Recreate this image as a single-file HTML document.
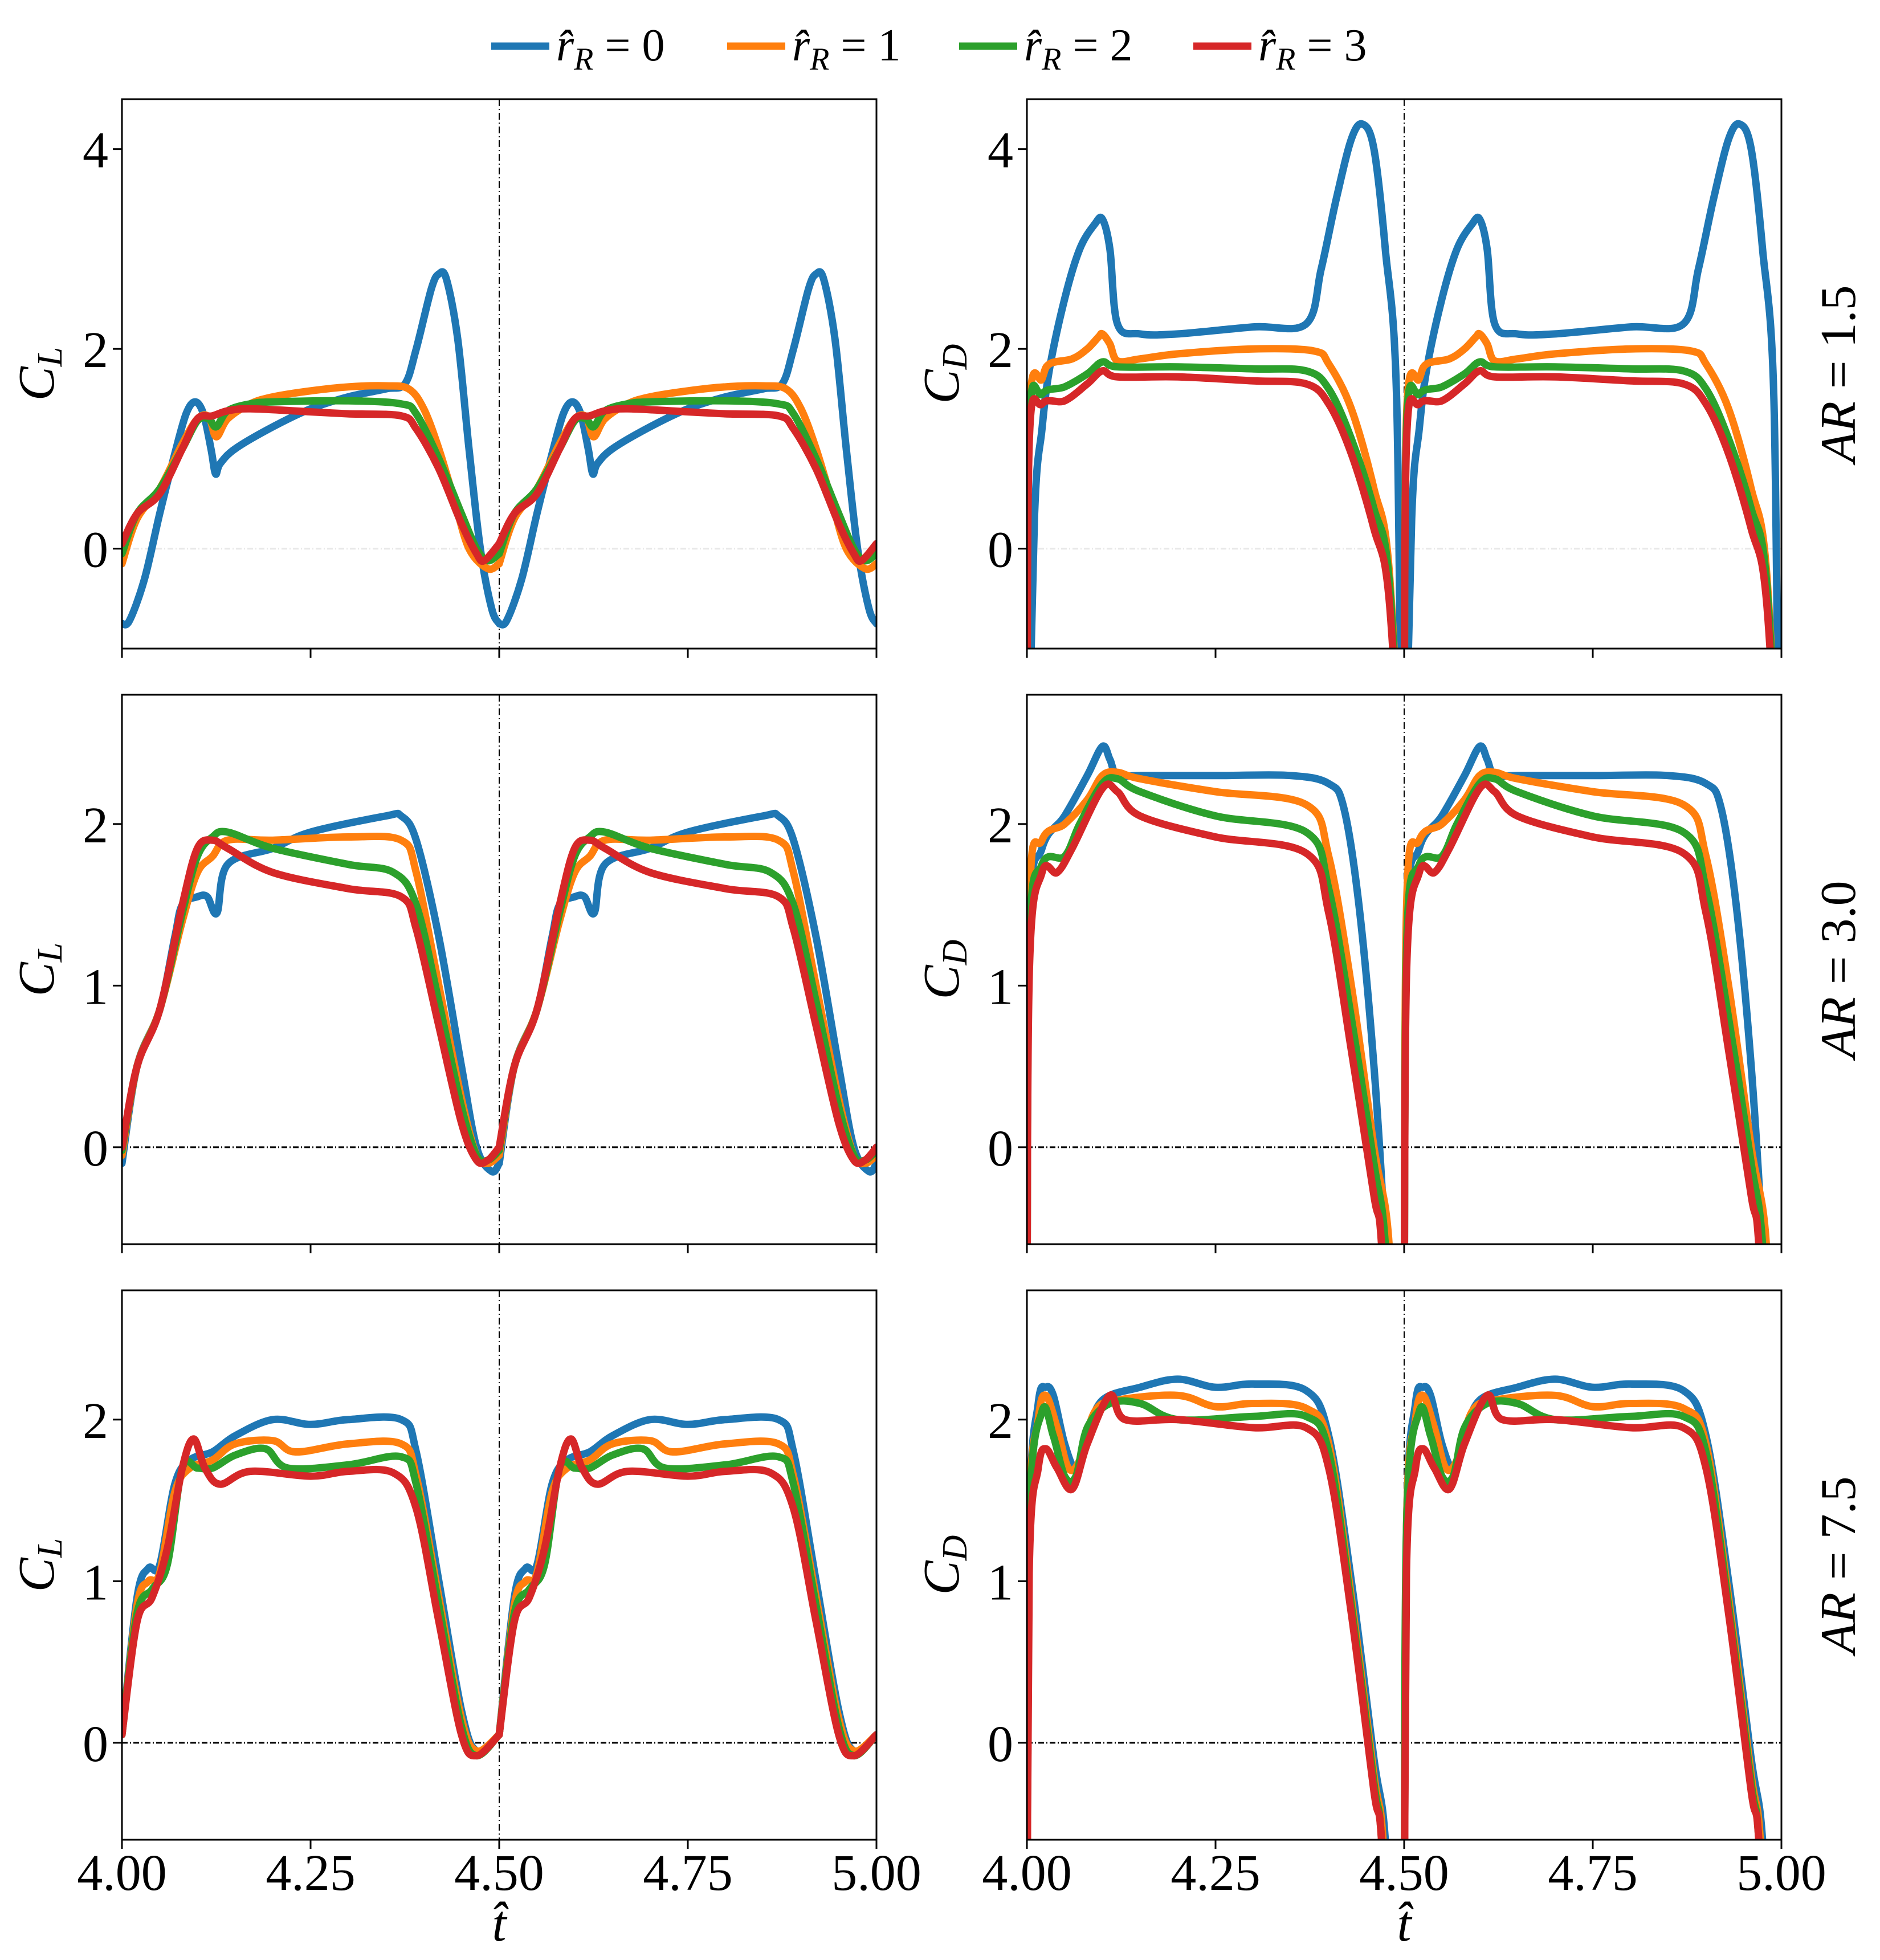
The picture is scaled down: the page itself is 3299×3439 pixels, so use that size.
<!DOCTYPE html>
<html><head><meta charset="utf-8">
<style>
html,body{margin:0;padding:0;background:#fff;overflow:hidden;}
svg{display:block;font-family:"Liberation Serif","DejaVu Serif",serif;}
</style></head>
<body>
<svg id="fig" width="3299" height="3439" viewBox="0 0 3299 3439" xmlns="http://www.w3.org/2000/svg">
<defs></defs>
<g id="legend"></g>
<g id="panels"></g>
</svg>
<script>
// ---- data: one cycle (t from 4.0 to 4.5), repeated for second cycle ----
const seriesNames = ["r=0","r=1","r=2","r=3"];
const seriesColors = ["#1f77b4","#ff7f0e","#2ca02c","#d62728"];
const legendLabels = ["0","1","2","3"];
const xTicks = [4.0,4.25,4.5,4.75,5.0];
const xTickLabels = ["4.00","4.25","4.50","4.75","5.00"];
const arLabels = ["1.5","3.0","7.5"];
const yTicksRow1 = [0,2,4];
const yTicksRow23 = [0,1,2];

// Row 1 CL
const r1L_b_t=[4.0,4.01,4.03,4.05,4.07,4.085,4.097,4.108,4.118,4.124,4.13,4.15,4.2,4.25,4.3,4.35,4.375,4.39,4.41,4.42,4.43,4.445,4.46,4.475,4.49,4.5];
const r1L_b_v=[-0.75,-0.72,-0.3,0.35,0.95,1.35,1.47,1.35,1.0,0.75,0.85,1.0,1.22,1.4,1.52,1.6,1.65,2.0,2.6,2.75,2.7,2.1,1.0,0.0,-0.6,-0.75];
const r1L_o_t=[4.0,4.02,4.05,4.08,4.1,4.115,4.125,4.14,4.17,4.2,4.25,4.3,4.35,4.38,4.4,4.42,4.44,4.46,4.485,4.5];
const r1L_o_v=[-0.15,0.3,0.6,1.05,1.3,1.32,1.12,1.3,1.45,1.52,1.58,1.62,1.63,1.6,1.4,1.0,0.5,0.0,-0.2,-0.15];
const r1L_g_t=[4.0,4.02,4.05,4.08,4.1,4.115,4.125,4.14,4.17,4.2,4.3,4.37,4.39,4.42,4.45,4.47,4.485,4.5];
const r1L_g_v=[-0.05,0.35,0.6,1.0,1.28,1.3,1.22,1.38,1.45,1.47,1.48,1.45,1.35,0.9,0.35,0.0,-0.12,-0.05];
const r1L_r_t=[4.0,4.02,4.05,4.08,4.1,4.12,4.14,4.17,4.25,4.3,4.37,4.39,4.42,4.45,4.47,4.48,4.5];
const r1L_r_v=[0.05,0.35,0.55,1.0,1.3,1.33,1.38,1.4,1.37,1.35,1.33,1.2,0.8,0.25,-0.05,-0.12,0.05];
// Row 1 CD
const r1D_b_t=[4.0,4.01,4.02,4.03,4.05,4.07,4.09,4.1,4.11,4.12,4.15,4.2,4.3,4.37,4.39,4.41,4.43,4.445,4.46,4.475,4.49,4.497];
const r1D_b_v=[-3,0.3,1.2,1.8,2.5,3.0,3.25,3.3,3.0,2.25,2.15,2.15,2.22,2.25,2.8,3.5,4.1,4.25,4.0,3.0,1.5,-3];
const r1D_o_t=[4.0,4.003,4.02,4.03,4.06,4.08,4.095,4.1,4.11,4.12,4.15,4.2,4.3,4.38,4.4,4.43,4.46,4.48,4.5];
const r1D_o_v=[-3,1.3,1.7,1.85,1.9,2.0,2.12,2.15,2.05,1.88,1.9,1.95,2.0,1.98,1.85,1.4,0.6,-0.2,-3];
const r1D_g_t=[4.0,4.003,4.02,4.05,4.08,4.1,4.12,4.2,4.3,4.37,4.4,4.43,4.46,4.48,4.5];
const r1D_g_v=[-3,1.2,1.55,1.62,1.75,1.87,1.82,1.82,1.8,1.78,1.6,1.1,0.4,-0.3,-3];
const r1D_r_t=[4.0,4.003,4.02,4.05,4.08,4.1,4.12,4.2,4.3,4.37,4.4,4.43,4.46,4.48,4.5];
const r1D_r_v=[-3,1.05,1.45,1.48,1.65,1.78,1.72,1.72,1.68,1.65,1.45,0.95,0.2,-0.5,-3];
// Row 2 CL
const r2L_b_t=[4.0,4.02,4.05,4.07,4.08,4.1,4.113,4.126,4.14,4.2,4.25,4.35,4.37,4.39,4.42,4.45,4.47,4.49,4.5];
const r2L_b_v=[-0.1,0.5,0.85,1.3,1.5,1.55,1.55,1.45,1.75,1.85,1.95,2.05,2.05,1.9,1.3,0.5,0.0,-0.15,-0.1];
const r2L_o_t=[4.0,4.02,4.05,4.08,4.1,4.12,4.14,4.2,4.3,4.37,4.39,4.42,4.45,4.47,4.485,4.5];
const r2L_o_v=[-0.05,0.5,0.85,1.4,1.7,1.8,1.9,1.9,1.92,1.9,1.7,1.0,0.3,-0.05,-0.1,-0.05];
const r2L_g_t=[4.0,4.02,4.05,4.08,4.1,4.12,4.14,4.2,4.3,4.36,4.39,4.42,4.45,4.47,4.485,4.5];
const r2L_g_v=[-0.02,0.5,0.85,1.45,1.8,1.92,1.95,1.85,1.75,1.7,1.5,0.9,0.25,-0.05,-0.08,-0.02];
const r2L_r_t=[4.0,4.02,4.05,4.08,4.1,4.12,4.14,4.2,4.3,4.37,4.39,4.42,4.45,4.47,4.485,4.5];
const r2L_r_v=[0.0,0.5,0.85,1.5,1.85,1.9,1.85,1.7,1.6,1.55,1.35,0.75,0.15,-0.08,-0.08,0.0];
// Row 2 CD
const r2D_b_t=[4.0,4.003,4.02,4.05,4.08,4.1,4.11,4.12,4.15,4.25,4.35,4.4,4.42,4.44,4.46,4.475,4.49];
const r2D_b_v=[-2,1.3,1.85,2.05,2.3,2.48,2.4,2.3,2.3,2.3,2.3,2.25,2.1,1.5,0.5,-0.6,-2];
const r2D_o_t=[4.0,4.003,4.02,4.05,4.08,4.1,4.12,4.15,4.25,4.37,4.4,4.43,4.46,4.48,4.49];
const r2D_o_v=[-2,1.45,1.9,2.0,2.15,2.3,2.32,2.28,2.2,2.12,1.8,1.0,0.0,-0.6,-2];
const r2D_g_t=[4.0,4.003,4.02,4.05,4.07,4.1,4.12,4.15,4.25,4.37,4.4,4.43,4.46,4.475,4.49];
const r2D_g_v=[-2,1.2,1.75,1.8,2.0,2.25,2.28,2.2,2.05,1.95,1.6,0.8,-0.1,-0.6,-2];
const r2D_r_t=[4.0,4.003,4.02,4.04,4.06,4.1,4.12,4.15,4.25,4.37,4.4,4.43,4.46,4.47,4.485];
const r2D_r_v=[-2,1.05,1.7,1.7,1.85,2.22,2.2,2.05,1.92,1.82,1.45,0.6,-0.3,-0.6,-2];
// Row 3 CL
const r3L_b_t=[4.0,4.02,4.035,4.05,4.07,4.09,4.12,4.15,4.2,4.25,4.3,4.37,4.39,4.42,4.45,4.47,4.5];
const r3L_b_v=[0.05,0.9,1.08,1.1,1.6,1.75,1.8,1.9,2.0,1.97,2.0,2.0,1.8,1.0,0.2,-0.05,0.05];
const r3L_o_t=[4.0,4.02,4.035,4.05,4.07,4.09,4.12,4.15,4.2,4.23,4.3,4.37,4.39,4.42,4.45,4.47,4.5];
const r3L_o_v=[0.05,0.85,1.0,1.05,1.55,1.7,1.75,1.85,1.87,1.8,1.85,1.85,1.65,0.9,0.15,-0.05,0.05];
const r3L_g_t=[4.0,4.02,4.04,4.06,4.08,4.1,4.12,4.15,4.19,4.22,4.3,4.37,4.39,4.42,4.45,4.47,4.5];
const r3L_g_v=[0.05,0.8,0.95,1.1,1.7,1.7,1.7,1.78,1.82,1.7,1.72,1.77,1.6,0.85,0.1,-0.08,0.05];
const r3L_r_t=[4.0,4.02,4.04,4.06,4.08,4.095,4.11,4.13,4.17,4.25,4.3,4.36,4.39,4.42,4.45,4.47,4.5];
const r3L_r_v=[0.05,0.75,0.9,1.2,1.7,1.88,1.7,1.6,1.68,1.65,1.68,1.67,1.45,0.75,0.05,-0.08,0.05];
// Row 3 CD
const r3D_b_t=[4.0,4.003,4.015,4.025,4.035,4.05,4.065,4.08,4.1,4.15,4.2,4.25,4.3,4.37,4.4,4.43,4.46,4.475,4.49];
const r3D_b_v=[-2,1.3,2.1,2.2,2.15,1.85,1.7,1.9,2.12,2.2,2.25,2.2,2.22,2.18,1.9,1.0,-0.1,-0.6,-2];
const r3D_o_t=[4.0,4.003,4.015,4.025,4.04,4.055,4.07,4.09,4.12,4.2,4.25,4.3,4.37,4.4,4.43,4.46,4.472,4.487];
const r3D_o_v=[-2,1.3,2.0,2.15,1.95,1.7,1.75,2.05,2.12,2.15,2.08,2.1,2.07,1.85,0.9,-0.2,-0.6,-2];
const r3D_g_t=[4.0,4.003,4.02,4.035,4.05,4.065,4.08,4.11,4.15,4.2,4.3,4.37,4.4,4.43,4.46,4.47,4.485];
const r3D_g_v=[-2,1.3,2.05,1.9,1.65,1.65,1.95,2.1,2.1,2.0,2.02,2.02,1.8,0.85,-0.25,-0.6,-2];
const r3D_r_t=[4.0,4.003,4.015,4.025,4.04,4.06,4.08,4.11,4.13,4.2,4.3,4.37,4.4,4.43,4.46,4.47,4.485];
const r3D_r_v=[-2,1.05,1.7,1.82,1.7,1.57,1.85,2.15,2.0,2.0,1.95,1.95,1.7,0.8,-0.3,-0.6,-2];

const panelsData = [
 [[r1L_b_t,r1L_b_v],[r1L_o_t,r1L_o_v],[r1L_g_t,r1L_g_v],[r1L_r_t,r1L_r_v]],
 [[r1D_b_t,r1D_b_v],[r1D_o_t,r1D_o_v],[r1D_g_t,r1D_g_v],[r1D_r_t,r1D_r_v]],
 [[r2L_b_t,r2L_b_v],[r2L_o_t,r2L_o_v],[r2L_g_t,r2L_g_v],[r2L_r_t,r2L_r_v]],
 [[r2D_b_t,r2D_b_v],[r2D_o_t,r2D_o_v],[r2D_g_t,r2D_g_v],[r2D_r_t,r2D_r_v]],
 [[r3L_b_t,r3L_b_v],[r3L_o_t,r3L_o_v],[r3L_g_t,r3L_g_v],[r3L_r_t,r3L_r_v]],
 [[r3D_b_t,r3D_b_v],[r3D_o_t,r3D_o_v],[r3D_g_t,r3D_g_v],[r3D_r_t,r3D_r_v]]
];

const NS="http://www.w3.org/2000/svg";
function mk(tag,attrs,parent){const e=document.createElementNS(NS,tag);for(const k in attrs)e.setAttribute(k,attrs[k]);if(parent)parent.appendChild(e);return e;}
function smoothPath(pts){
 let d='M'+pts[0][0].toFixed(1)+','+pts[0][1].toFixed(1);
 for(let i=0;i<pts.length-1;i++){
  const p0=pts[Math.max(0,i-1)],p1=pts[i],p2=pts[i+1],p3=pts[Math.min(pts.length-1,i+2)];
  const k=1/6;
  const c1x=p1[0]+(p2[0]-p0[0])*k, c1y=p1[1]+(p2[1]-p0[1])*k;
  const c2x=p2[0]-(p3[0]-p1[0])*k, c2y=p2[1]-(p3[1]-p1[1])*k;
  d+='C'+c1x.toFixed(1)+','+c1y.toFixed(1)+' '+c2x.toFixed(1)+','+c2y.toFixed(1)+' '+p2[0].toFixed(1)+','+p2[1].toFixed(1);
 }
 return d;
}

const colX=[214,1802], colW=1324;
const rowY=[174,1219,2264], rowH=964;
const panelsG=document.getElementById('panels');
const defs=document.querySelector('defs');

for(let r=0;r<3;r++){
 for(let c=0;c<2;c++){
  const idx=r*2+c;
  const x0=colX[c], y0=rowY[r];
  const ymin = r===0?-1:-0.6, ymax = r===0?4.5:2.8;
  const sx=t=>x0+(t-4)*colW;
  const sy=v=>y0+(ymax-v)/(ymax-ymin)*rowH;
  const g=mk('g',{},panelsG);
  
  
  const cp=mk('clipPath',{id:'clip'+idx},defs);
  mk('rect',{x:x0,y:y0,width:colW,height:rowH},cp);
  const zl=mk('line',{x1:x0,x2:x0+colW,y1:sy(0),y2:sy(0),stroke:r===0?'#e8e8e8':'#000','stroke-width':3,'stroke-dasharray':'10,4,2,4'},g);
  
  
  const vl=mk('line',{x1:sx(4.5),x2:sx(4.5),y1:y0,y2:y0+rowH,stroke:'#000','stroke-width':2,'stroke-dasharray':'12,5,2,5'},g);
  
  
  const sg=mk('g',{'clip-path':'url(#clip'+idx+')'},g);
  panelsData[idx].forEach((s,si)=>{
   const [ts,vs]=s;
   for(let cyc=0;cyc<2;cyc++){
    const pts=ts.map((t,i)=>[sx(t+cyc*0.5),sy(vs[i])]);
    const p=mk('path',{d:smoothPath(pts),fill:'none',stroke:seriesColors[si],'stroke-width':13,'stroke-linejoin':'round','stroke-linecap':'round'},sg);
    
    
   }
  });
  const fr=mk('rect',{x:x0,y:y0,width:colW,height:rowH,fill:'none',stroke:'#000','stroke-width':3},g);
  
  
  xTicks.forEach((t,i)=>{
   mk('line',{x1:sx(t),x2:sx(t),y1:y0+rowH,y2:y0+rowH+16,stroke:'#000','stroke-width':3},g);
   if(r===2){
    const tl=mk('text',{x:sx(t),y:y0+rowH+88,'font-size':90,'text-anchor':'middle',fill:'#000'},g);
    tl.textContent=xTickLabels[i];
    
    
   }
  });
  (r===0?yTicksRow1:yTicksRow23).forEach(v=>{
   mk('line',{x1:x0-16,x2:x0,y1:sy(v),y2:sy(v),stroke:'#000','stroke-width':3},g);
   const yl=mk('text',{x:x0-24,y:sy(v)+32,'font-size':90,'text-anchor':'end',fill:'#000'},g);
   yl.textContent=String(v);
   
   
  });
  const lx=x0-120, ly=y0+rowH/2;
  const yt=mk('text',{x:lx,y:ly,'font-size':90,'font-style':'italic','text-anchor':'middle',transform:'rotate(-90 '+lx+' '+ly+')',fill:'#000'},g);
  yt.innerHTML='C<tspan font-size="62" dy="14">'+(c===0?'L':'D')+'</tspan>';
  
  
  if(c===1){
   const ax=3255, ay=y0+rowH/2;
   const at=mk('text',{x:ax,y:ay,'font-size':88,'text-anchor':'middle',transform:'rotate(-90 '+ax+' '+ay+')',fill:'#000'},g);
   at.innerHTML='<tspan font-style="italic">AR</tspan> = '+arLabels[r];
   
   
  }
  if(r===2){
   const tx=x0+colW/2;
   const xt=mk('text',{x:tx,y:3405,'font-size':90,'font-style':'italic','text-anchor':'middle',fill:'#000'},g);
   xt.textContent='t\u0302';
   
   
  }
 }
}
const lg=document.getElementById('legend');
const legX=[862,1276,1683,2094];
legendLabels.forEach((lab,i)=>{
 const e=mk('g',{},lg);
 
 
 mk('line',{x1:legX[i],x2:legX[i]+102,y1:81,y2:81,stroke:seriesColors[i],'stroke-width':13},e);
 const t=mk('text',{x:legX[i]+114,y:106,'font-size':80,fill:'#000'},e);
 t.innerHTML='<tspan font-style="italic">r\u0302</tspan><tspan font-style="italic" font-size="56" dy="16">R</tspan><tspan dy="-16"> = '+lab+'</tspan>';
});
</script>
</body></html>
